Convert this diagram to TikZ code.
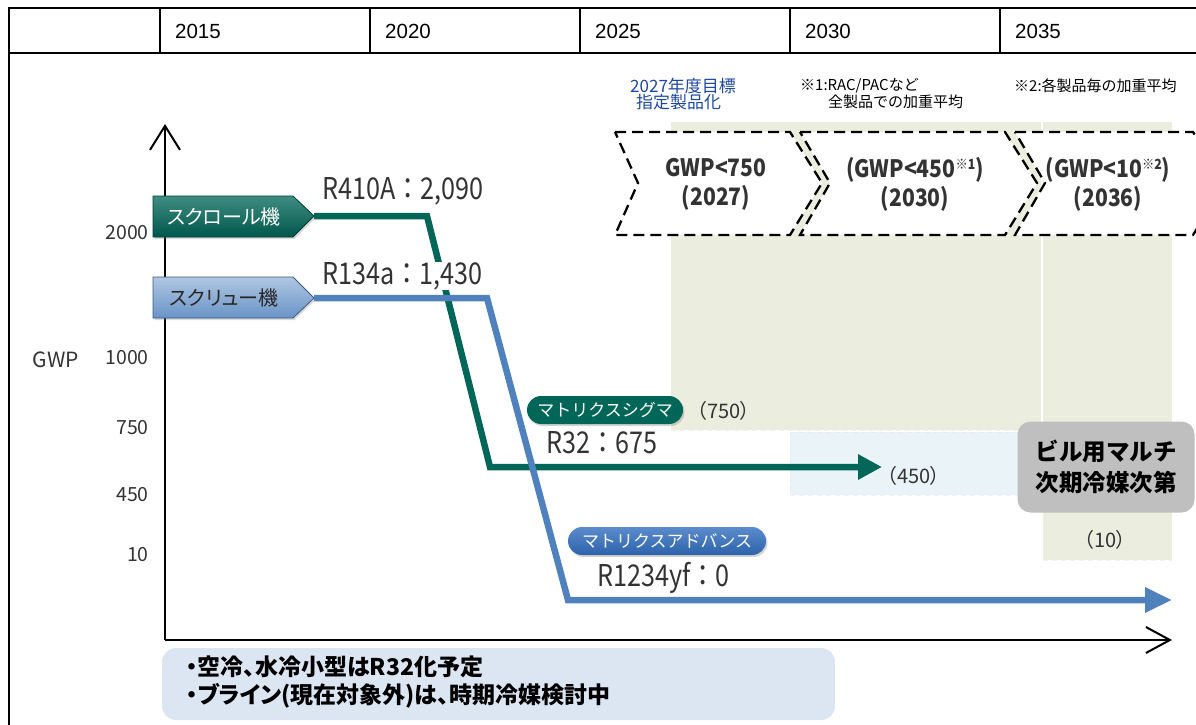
\documentclass[tikz,border=0pt]{standalone}
\usepackage{fontspec}
\setmainfont{Liberation Sans}
\newfontfamily\jp[RawFeature=+palt]{Noto Sans CJK JP}
\newfontfamily\jpn{Noto Sans CJK JP}
\newfontfamily\jpc[FakeStretch=0.88]{Noto Sans CJK JP}
\newfontfamily\jpr[FakeStretch=0.84]{Noto Sans CJK JP}
\usetikzlibrary{arrows.meta,shadows}
\definecolor{tealc}{RGB}{0,102,88}
\definecolor{bluec}{RGB}{79,129,189}
\definecolor{pillblue}{RGB}{50,110,190}
\definecolor{greenbg}{RGB}{235,238,222}
\definecolor{lbluebg}{RGB}{234,244,248}
\definecolor{graybox}{RGB}{191,191,191}
\definecolor{notebg}{RGB}{220,230,242}
\definecolor{txt}{RGB}{51,51,51}
\definecolor{navytxt}{RGB}{31,73,160}
\newcommand{\fs}[1]{\fontsize{#1}{#1}\selectfont}
\newcommand{\supm}[1]{\raisebox{0.55ex}{\fs{14}#1}}
\begin{document}
\begin{tikzpicture}[x=1pt,y=-1pt,
  frame/.style={line width=2.4pt,black},
  year/.style={anchor=west,inner sep=0pt,font=\fs{20.5}},
  ylab/.style={anchor=east,inner sep=0pt,text=txt,font=\jpn\fs{19.5}},
  chev/.style={draw=black,fill=white,line width=2.3pt,dash pattern=on 11pt off 6pt},
  boxtxt/.style={align=center,inner sep=0pt,text=txt,font=\jpc\bfseries\fontsize{24}{29}\selectfont},
  note/.style={anchor=west,align=left,inner sep=0pt,font=\jpn\fontsize{15}{17}\selectfont},
  reflab/.style={anchor=west,inner sep=0pt,text=txt,font=\jpr\fs{30}},
  paren/.style={anchor=west,inner sep=0pt,text=txt,font=\jp\fs{20}},
  pill/.style={rounded corners=14pt,minimum height=28pt,inner sep=0pt,text=white,font=\jpn\fs{17},drop shadow={opacity=0.35,shadow xshift=1.5pt,shadow yshift=-2pt}},
  axis/.style={line width=2pt,black},
  tline/.style={line width=6.5pt,tealc},
  bline/.style={line width=6.5pt,bluec}]
\useasboundingbox (0,0) rectangle (1196,725);
% background regions
\fill[greenbg] (671,122) rectangle (790,430);
\fill[greenbg] (790,122) rectangle (1041,430);
\fill[greenbg] (1043,122) rectangle (1172,560);
\fill[lbluebg] (790,432) rectangle (1022,495);
\draw[white!80!gray,line width=0.8pt,dash pattern=on 5pt off 4pt,opacity=0.5] (790,432) rectangle (1022,495);
\draw[white!80!gray,line width=0.8pt,dash pattern=on 5pt off 4pt,opacity=0.5] (671,430) -- (1041,430);
\draw[white!80!gray,line width=0.8pt,dash pattern=on 5pt off 4pt,opacity=0.5] (1043,560) -- (1172,560);
% header frame
\draw[frame] (9,725) -- (9,8) -- (1200,8);
\draw[frame] (9,53) -- (1200,53);
\foreach \x in {160,370,580,790,1000} \draw[frame] (\x,8) -- (\x,53);
\node[year] (y15) at (175,31) {2015};
\node[year] (y20) at (385,31) {2020};
\node[year] (y25) at (595,31) {2025};
\node[year] (y30) at (805,31) {2030};
\node[year] (y35) at (1015,31) {2035};
% notes on top
\node[note,text=navytxt,font=\jpn\fontsize{17}{16}\selectfont] (n0) at (630,94) {2027年度目標\\\hspace*{6pt}指定製品化};
\node[note] (n1) at (800,94) {※1:RAC/PAC{\fs{16}}など\\\hspace*{28pt}全製品での加重平均};
\node[note] (n2) at (1014,86) {※2:各製品毎の加重平均};
% chevrons
\draw[chev] (615,132) -- (790,132) -- (822,183) -- (790,235) -- (615,235) -- (638,183) -- cycle;
\draw[chev] (800,132) -- (1005,132) -- (1037,183) -- (1005,235) -- (800,235) -- (830,183) -- cycle;
\draw[chev] (1015,132) -- (1193,132) -- (1225,183) -- (1193,235) -- (1015,235) -- (1045,183) -- cycle;
\node[boxtxt] (b1) at (716,184) {GWP<750\\(2027)};
\node[boxtxt] (b2) at (915,184) {(GWP<450\supm{※1})\\(2030)};
\node[boxtxt] (b3) at (1108,184) {(GWP<10\supm{※2})\\(2036)};
% axes
\coordinate (origin) at (165,640);
\coordinate (ytop) at (165,124);
\coordinate (xend) at (1172,640);
\draw[axis,-{Straight Barb[length=24pt,width=30pt]}] (origin) -- (ytop);
\draw[axis,-{Straight Barb[length=24pt,width=26pt]}] (origin) -- (xend);
\node[ylab] (t2000) at (149,233) {2000};
\node[ylab] (t1000) at (149,358) {1000};
\node[ylab] (t750) at (149,428) {750};
\node[ylab] (t450) at (149,495) {450};
\node[ylab] (t10) at (149,555) {10};
\node[inner sep=0pt,text=txt,font=\jpn\fs{21}] (gwp) at (56,360) {GWP};
% series labels
\shade[top color=tealc!75!white,bottom color=tealc!85!black,draw=tealc!60!black,line width=0.8pt,drop shadow={opacity=0.3,shadow xshift=1.5pt,shadow yshift=-2pt}]
  (153,196) -- (293,196) -- (314,216) -- (293,237) -- (153,237) -- cycle;
\node[inner sep=0pt,text=white,font=\jp\fs{20}] (scroll) at (224,217) {スクロール機};
\coordinate (scrolltip) at (314,216);
\shade[top color=bluec!45!white,bottom color=bluec!85!white,draw=bluec!70!black,line width=0.8pt,drop shadow={opacity=0.3,shadow xshift=1.5pt,shadow yshift=-2pt}]
  (153,277) -- (293,277) -- (314,298) -- (293,318) -- (153,318) -- cycle;
\node[inner sep=0pt,text=black!85,font=\jp\fs{20}] (screw) at (224,298) {スクリュー機};
\coordinate (screwtip) at (314,298);
% lines
\coordinate (tend) at (882,467);
\coordinate (bend) at (1172,600);
\draw[tline,-{Triangle[length=24pt,width=24pt]}] (scrolltip) -- (427,216) -- (490,467) -- (tend);
\node[reflab,fill=white,inner xsep=2pt,inner ysep=0pt] (r134) at (320,276) {R134a：1,430};
\draw[bline,-{Triangle[length=27pt,width=24pt]}] (screwtip) -- (487,298) -- (568,600) -- (bend);
% labels
\node[reflab] (r410) at (322,191) {R410A：2,090};
\node[reflab] (r32) at (546,443) {R32：675};
\node[reflab] (r1234) at (597,578) {R1234yf：0};
\node[pill,fill=tealc,minimum width=156pt] (sigma) at (605,410) {マトリクスシグマ};
\node[pill,top color=pillblue!80!white,bottom color=pillblue!90!black,minimum width=198pt] (adv) at (667,541) {マトリクスアドバンス};
\node[paren] (p750) at (697,411) {（750）};
\node[paren] (p450) at (887,476) {（450）};
\node[paren] (p10) at (1084,540) {（10）};
% gray box
\node[fill=graybox,rounded corners=13pt,minimum width=177pt,minimum height=91pt,align=center,inner sep=0pt,font=\jpn\bfseries\fontsize{23.5}{31}\selectfont] (bill) at (1106,467) {ビル用マルチ\\次期冷媒次第};
% bottom note
\fill[notebg,rounded corners=14pt] (162,648) rectangle (835,720);
\node[anchor=west,align=left,inner sep=0pt,font=\jp\bfseries\fontsize{23}{28}\selectfont] (bnote) at (186,682) {・空冷、水冷小型はR32化予定\\・ブライン(現在対象外)は、時期冷媒検討中};
\end{tikzpicture}
\end{document}
